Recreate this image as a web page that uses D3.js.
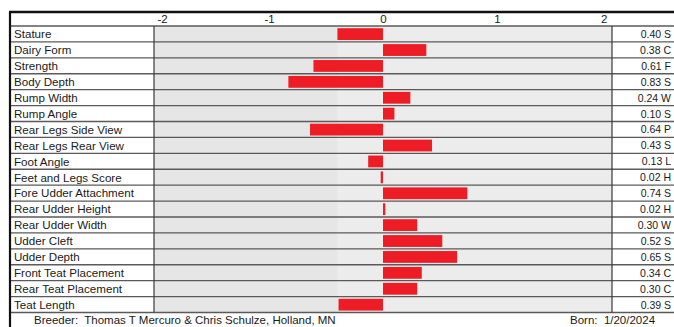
<!DOCTYPE html>
<html>
<head>
<meta charset="utf-8">
<script src="https://cdn.jsdelivr.net/npm/d3@7"></script>
<style>
  html, body { margin: 0; padding: 0; background: #ffffff; overflow: hidden; }
  svg { display: block; }
  text { font-family: "Liberation Sans", Arial, sans-serif; fill: #1a1a1a; }
</style>
</head>
<body>
<svg id="chart" width="674" height="327"></svg>
<script>
// ---- data ----
const traits = ["Stature", "Dairy Form", "Strength", "Body Depth", "Rump Width", "Rump Angle",
  "Rear Legs Side View", "Rear Legs Rear View", "Foot Angle", "Feet and Legs Score",
  "Fore Udder Attachment", "Rear Udder Height", "Rear Udder Width", "Udder Cleft",
  "Udder Depth", "Front Teat Placement", "Rear Teat Placement", "Teat Length"];
const values = [-0.40, 0.38, -0.61, -0.83, 0.24, 0.10, -0.64, 0.43, -0.13, -0.02,
  0.74, 0.02, 0.30, 0.52, 0.65, 0.34, 0.30, -0.39];
// right-hand column as visible (cut at the edge in the reference)
const sideLabels = ["0.40 S", "0.38 C", "0.61 F", "0.83 S", "0.24 W", "0.10 S", "0.64 P", "0.43 S",
  "0.13 L", "0.02 H", "0.74 S", "0.02 H", "0.30 W", "0.52 S", "0.65 S", "0.34 C", "0.30 C", "0.39 S"];
const tickValues = [-2, -1, 0, 1, 2];
const tickLabels = ["-2", "-1", "0", "1", "2"];
const breederText = "Breeder:  Thomas T Mercuro & Chris Schulze, Holland, MN";
const bornText = "Born:  1/20/2024";

(function () {
// ---- layout ----
const svg = d3.select("#chart");
const W = 674, H = 327;
const leftX = 10, topY = 12, headerBottom = 26, rowsBottom = 312.5;
const labelColRight = 154, plotRight = 612;

const x = d3.scaleLinear().domain([-2, 2]).range([155, 611]);
const y = d3.scaleBand().domain(traits).range([headerBottom, rowsBottom]).paddingInner(0).paddingOuter(0);
const barPad = 2.2;

// backgrounds
svg.append("rect").attr("x", 0).attr("y", 0).attr("width", W).attr("height", H).attr("fill", "#fff");
svg.append("rect")
  .attr("x", labelColRight).attr("y", headerBottom)
  .attr("width", plotRight - labelColRight).attr("height", rowsBottom - headerBottom)
  .attr("fill", "#e6e6e6");
svg.append("rect")
  .attr("x", x(-0.4)).attr("y", headerBottom)
  .attr("width", x(2) - x(-0.4)).attr("height", rowsBottom - headerBottom)
  .attr("fill", "#ffffff").attr("opacity", 0.25);

// bars
svg.append("g").selectAll("rect")
  .data(traits.map((t, i) => ({ t, v: values[i] })))
  .join("rect")
  .attr("x", d => x(Math.min(0, d.v)))
  .attr("y", d => y(d.t) + barPad)
  .attr("width", d => Math.max(1.2, Math.abs(x(d.v) - x(0))))
  .attr("height", y.bandwidth() - barPad * 2 + 0.3)
  .attr("fill", "#ee1c25");

// horizontal row lines
const lineYs = [headerBottom].concat(traits.map(t => y(t) + y.bandwidth()));
svg.append("g").selectAll("line")
  .data(lineYs)
  .join("line")
  .attr("x1", leftX).attr("x2", W)
  .attr("y1", d => d).attr("y2", d => d)
  .attr("stroke", "#5a5a5a").attr("stroke-width", 1.4);

// vertical dividers
[labelColRight, plotRight].forEach(px => {
  svg.append("line")
    .attr("x1", px).attr("x2", px)
    .attr("y1", headerBottom).attr("y2", rowsBottom)
    .attr("stroke", "#3a3a3a").attr("stroke-width", 1.2);
});

// outer border (top and left)
svg.append("line").attr("x1", leftX - 1).attr("x2", W).attr("y1", topY).attr("y2", topY)
  .attr("stroke", "#111").attr("stroke-width", 2.4);
svg.append("line").attr("x1", leftX).attr("x2", leftX).attr("y1", topY).attr("y2", H)
  .attr("stroke", "#111").attr("stroke-width", 2.2);

// axis tick labels (header row)
const axis = d3.axisTop(x).tickValues(tickValues).tickSize(0).tickPadding(0)
  .tickFormat((d, i) => tickLabels[i]);
const axG = svg.append("g").attr("transform", `translate(0,${headerBottom - 3})`).call(axis);
axG.select(".domain").remove();
axG.selectAll("text")
  .attr("font-size", 11.5)
  .attr("font-family", "Liberation Sans, Arial, sans-serif")
  .attr("fill", "#1a1a1a")
  .attr("dy", 0)
  .attr("text-anchor", d => d === -2 ? "start" : (d === 2 ? "end" : "middle"))
  .attr("dx", d => d === -2 ? 2 : (d === 2 ? -4 : 0));

// row labels
svg.append("g").selectAll("text")
  .data(traits)
  .join("text")
  .attr("x", 14)
  .attr("y", d => y(d) + y.bandwidth() / 2 + 4.3)
  .attr("font-size", 11.6)
  .text(d => d);

// right column values
svg.append("g").selectAll("text")
  .data(traits.map((t, i) => ({ t, s: sideLabels[i] })))
  .join("text")
  .attr("x", 671)
  .attr("text-anchor", "end")
  .attr("y", d => y(d.t) + y.bandwidth() / 2 + 4)
  .attr("font-size", 10.5)
  .style("font-family", "'Liberation Sans Narrow', 'Arial Narrow', 'Liberation Sans', sans-serif")
  .text(d => d.s);

// footer
svg.append("text").attr("x", 34).attr("y", 324).attr("font-size", 11.5)
  .style("white-space", "pre")
  .text(breederText);
svg.append("text").attr("x", 570).attr("y", 324).attr("font-size", 11.5)
  .style("white-space", "pre")
  .text(bornText);
})();
</script>
</body>
</html>
